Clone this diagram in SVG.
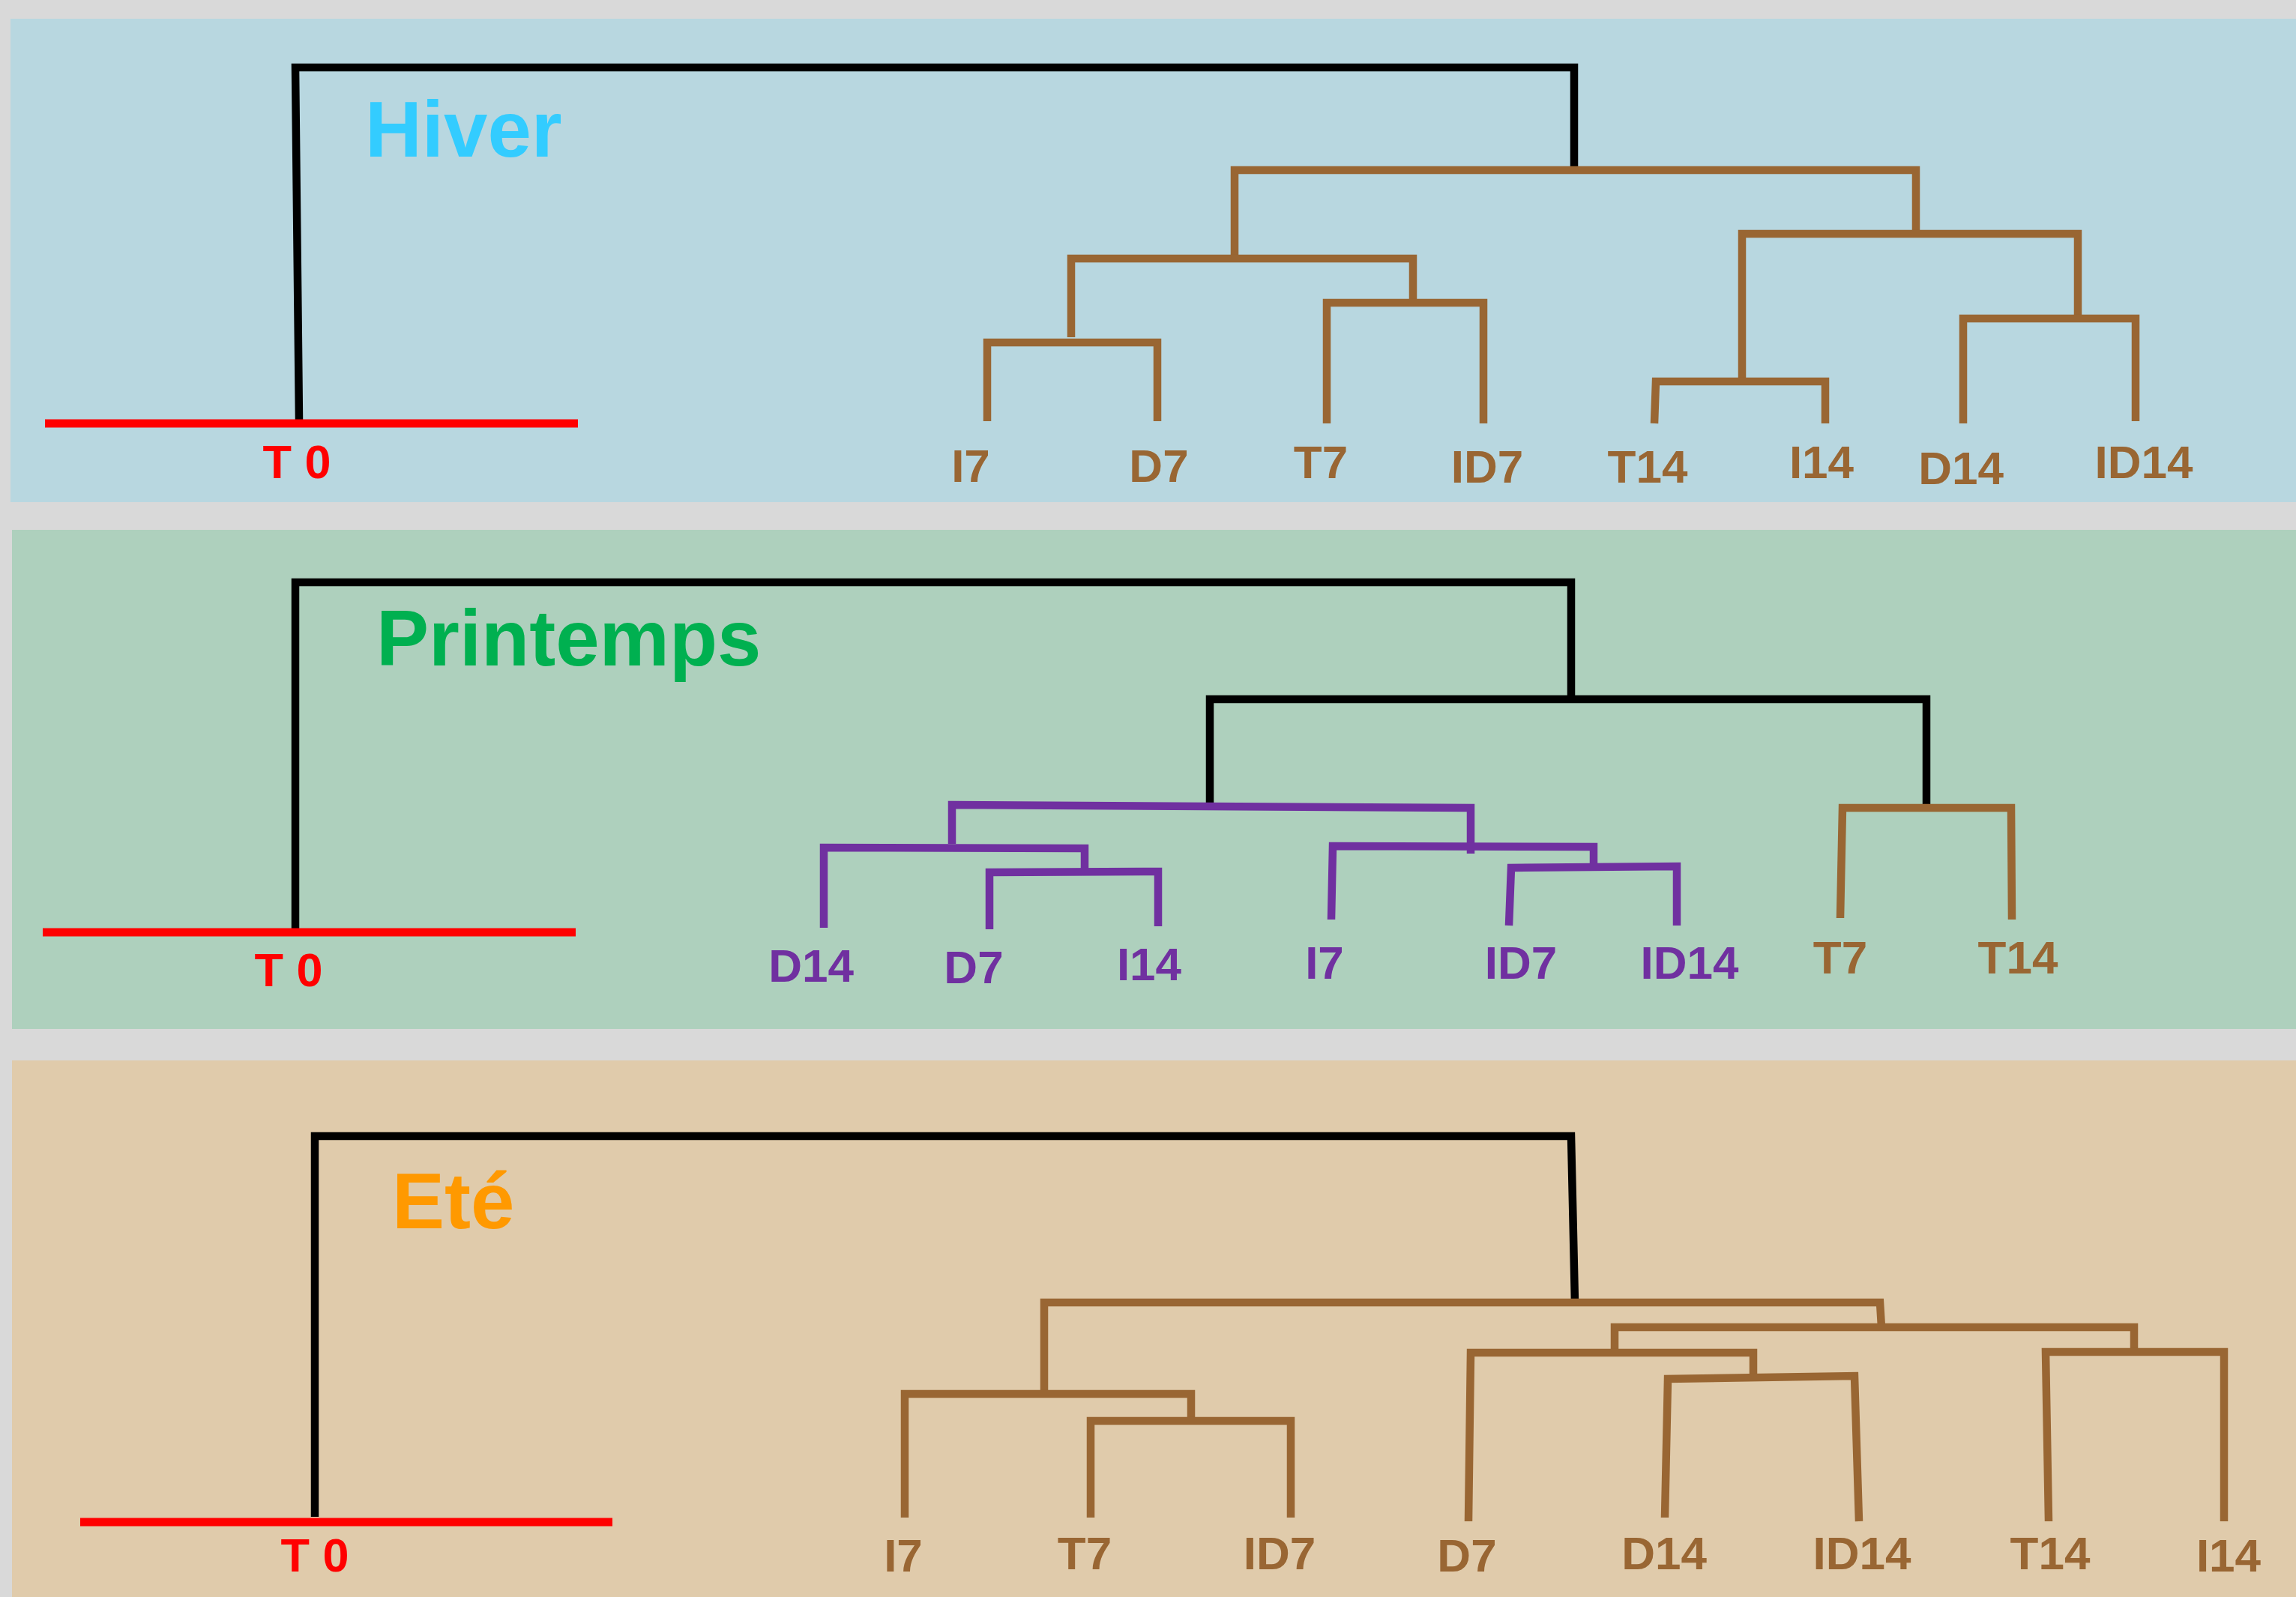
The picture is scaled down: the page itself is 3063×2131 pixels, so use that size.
<svg xmlns="http://www.w3.org/2000/svg" width="3063" height="2131" viewBox="0 0 3063 2131">
<style>
.ln{fill:none;stroke-width:10.5;stroke-linejoin:miter;stroke-linecap:butt}
.k{stroke:#000000}
.b{stroke:#996633}
.p{stroke:#7030a0}
.r{stroke:#ff0000;stroke-width:11}
.lb{font-family:"Liberation Sans",Arial,sans-serif;font-weight:bold;font-size:62px;text-anchor:middle}
.t0{font-family:"Liberation Sans",Arial,sans-serif;font-weight:bold;font-size:63px;text-anchor:middle;fill:#ff0000}
.ttl{font-family:"Liberation Sans",Arial,sans-serif;font-weight:bold;font-size:105px}
.fb{fill:#996633}
.fp{fill:#7030a0}
</style>
<rect x="0" y="0" width="3063" height="2131" fill="#d9d9d9"/>
<g id="panel-hiver">
<rect x="14" y="25" width="3049" height="645" fill="#b8d7e0"/>
<text class="ttl" x="487" y="209" fill="#33ccff">Hiver</text>
</g>
<g id="panel-printemps">
<rect x="16" y="707" width="3047" height="666" fill="#aed0bd"/>
<text class="ttl" x="502" y="888" fill="#00b050">Printemps</text>
</g>
<g id="panel-ete">
<rect x="16" y="1415" width="3047" height="716" fill="#e0cbab"/>
<text class="ttl" x="523" y="1639" fill="#ff9900">Eté</text>
</g>

<g id="connectors">
<!-- Hiver -->
<path class="ln k" d="M399 561 L394 90 H2100 V227"/>
<path class="ln b" d="M1647 345 V227 H2556 V312"/>
<path class="ln b" d="M1429 450 V345 H1885 V404"/>
<path class="ln b" d="M1317 562 V457 H1544 V562"/>
<path class="ln b" d="M1770 565 V404 H1979 V565"/>
<path class="ln b" d="M2324 509 V312 H2772 V425"/>
<path class="ln b" d="M2207 565 L2209 509 H2435 V565"/>
<path class="ln b" d="M2619 565 V425 H2849 V562"/>
<!-- Printemps -->
<path class="ln k" d="M394 1239 V777 H2096 V933"/>
<path class="ln k" d="M1614 1071 V933 H2570 V1073"/>
<path class="ln p" d="M1270 1126 V1074 L1962 1078 V1139"/>
<path class="ln p" d="M1099 1238 V1131 L1447 1132 V1160"/>
<path class="ln p" d="M1320 1240 V1164 L1545 1163 V1236"/>
<path class="ln p" d="M1776 1227 L1778 1129 L2126 1130 V1162"/>
<path class="ln p" d="M2013 1235 L2016 1158 L2237 1156 V1235"/>
<path class="ln b" d="M2455 1225 L2458 1078 H2683 L2684 1227"/>
<!-- Ete -->
<path class="ln k" d="M420 2024 V1516 H2096 L2101 1738"/>
<path class="ln b" d="M1393 1856 V1738 H2508 L2510 1771"/>
<path class="ln b" d="M1207 2025 V1860 H1589 V1896"/>
<path class="ln b" d="M1455 2025 V1896 H1722 V2025"/>
<path class="ln b" d="M2154 1805 V1771 H2847 V1804"/>
<path class="ln b" d="M1959 2030 L1962 1805 H2339 V1838"/>
<path class="ln b" d="M2221 2025 L2225 1840 L2474 1836 L2480 2030"/>
<path class="ln b" d="M2733 2030 L2729 1804 H2967 V2030"/>
</g>

<g id="t0-hiver">
<path class="r" d="M60 565 H771"/>
<text class="t0" x="396" y="638">T 0</text>
</g>
<g id="t0-printemps">
<path class="r" d="M57 1244 H768"/>
<text class="t0" x="385" y="1316">T 0</text>
</g>
<g id="t0-ete">
<path class="r" d="M107 2031 H817"/>
<text class="t0" x="420" y="2097">T 0</text>
</g>

<g id="leaves-hiver">
<text id="h-I7" class="lb fb" x="1295" y="643">I7</text>
<text id="h-D7" class="lb fb" x="1546" y="643">D7</text>
<text id="h-T7" class="lb fb" x="1762" y="638">T7</text>
<text id="h-ID7" class="lb fb" x="1984" y="644">ID7</text>
<text id="h-T14" class="lb fb" x="2198" y="644">T14</text>
<text id="h-I14" class="lb fb" x="2430" y="638">I14</text>
<text id="h-D14" class="lb fb" x="2616" y="646">D14</text>
<text id="h-ID14" class="lb fb" x="2860" y="638">ID14</text>
</g>
<g id="leaves-printemps">
<text id="p-D14" class="lb fp" x="1082" y="1310">D14</text>
<text id="p-D7" class="lb fp" x="1299" y="1312">D7</text>
<text id="p-I14" class="lb fp" x="1533" y="1308">I14</text>
<text id="p-I7" class="lb fp" x="1767" y="1306">I7</text>
<text id="p-ID7" class="lb fp" x="2029" y="1306">ID7</text>
<text id="p-ID14" class="lb fp" x="2254" y="1306">ID14</text>
<text id="p-T7" class="lb fb" x="2455" y="1299">T7</text>
<text id="p-T14" class="lb fb" x="2692" y="1299">T14</text>
</g>
<g id="leaves-ete">
<text id="e-I7" class="lb fb" x="1205" y="2097">I7</text>
<text id="e-T7" class="lb fb" x="1447" y="2094">T7</text>
<text id="e-ID7" class="lb fb" x="1707" y="2094">ID7</text>
<text id="e-D7" class="lb fb" x="1957" y="2097">D7</text>
<text id="e-D14" class="lb fb" x="2220" y="2094">D14</text>
<text id="e-ID14" class="lb fb" x="2484" y="2094">ID14</text>
<text id="e-T14" class="lb fb" x="2735" y="2094">T14</text>
<text id="e-I14" class="lb fb" x="2973" y="2097">I14</text>
</g>
</svg>
